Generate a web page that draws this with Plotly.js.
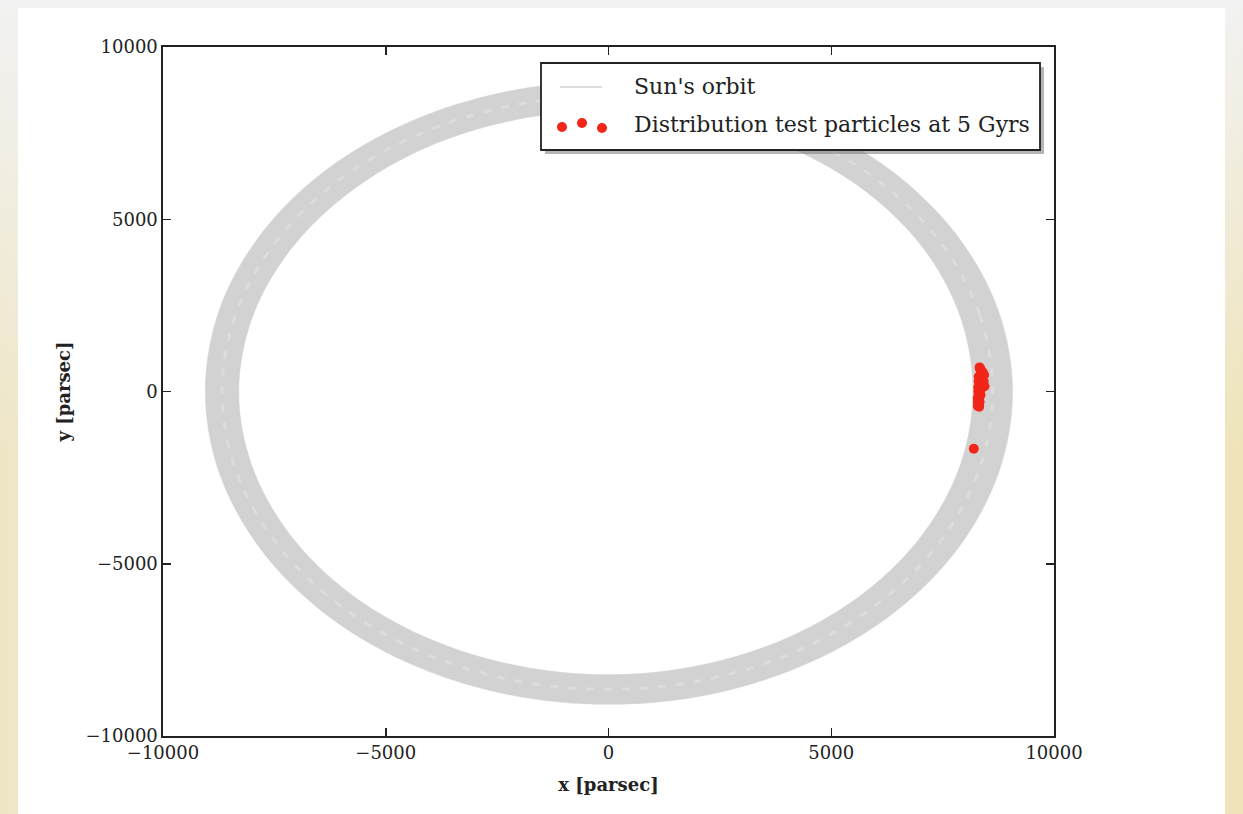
<!DOCTYPE html>
<html>
<head>
<meta charset="utf-8">
<script src="https://cdn.plot.ly/plotly-3.0.1.min.js"></script>
<style>
  html, body { margin: 0; padding: 0; width: 1243px; height: 814px; overflow: hidden; }
  body {
    background:
      linear-gradient(to bottom, rgba(242,242,242,1) 0%, rgba(242,242,242,0) 55%),
      linear-gradient(90deg, #efe6c6 0%, #f2f1ec 25%, #f2f2f2 80%, #efe3b8 100%);
  }
  #chart { position: absolute; left: 18px; top: 8px; width: 1207px; height: 806px; }
</style>
</head>
<body>
<div id="chart"></div>
<script>
// Sun's orbit band: inner and outer edge radius (pc) every 15 degrees, from +x counter-clockwise
const orbitAngleDeg = [0, 15, 30, 45, 60, 75, 90, 105, 120, 135, 150, 165,
                       180, 195, 210, 225, 240, 255, 270, 285, 300, 315, 330, 345];
const orbitOuterR = [9070, 9060, 9040, 9020, 9000, 8990, 8990, 9000, 9010, 9030, 9040, 9050,
                     9050, 9050, 9050, 9060, 9070, 9080, 9080, 9080, 9070, 9070, 9070, 9070];
const orbitInnerR = [8180, 8190, 8200, 8190, 8170, 8150, 8150, 8160, 8180, 8200, 8240, 8280,
                     8300, 8290, 8270, 8250, 8230, 8220, 8220, 8210, 8200, 8190, 8180, 8180];

// Test particles at 5 Gyr (pc)
const particleX = [8330, 8360, 8400, 8430, 8390, 8350, 8310, 8360, 8410, 8440, 8380, 8330,
                   8300, 8320, 8350, 8300, 8290, 8310, 8330, 8300, 8310, 8290, 8320,
                   8340, 8370, 8420, 8310, 8300, 8330, 8290, 8200];
const particleY = [700, 620, 560, 480, 400, 350, 300, 250, 200, 150, 110, 60,
                   0, -50, -100, -150, -200, -250, -300, -330, -380, -420, -440,
                   650, 520, 300, 430, 120, -20, -300, -1660];

// Axis ticks
const tickValues = [-10000, -5000, 0, 5000, 10000];
const tickLabels = ['\u221210000', '\u22125000', '0', '5000', '10000'];

// Legend entries
const legendLabels = ["Sun's orbit", 'Distribution test particles at 5 Gyrs'];

function ring(radii) {
  const xs = [], ys = [];
  const n = orbitAngleDeg.length;
  for (let i = 0; i <= n; i++) {
    const a = orbitAngleDeg[i % n] * Math.PI / 180;
    xs.push(radii[i % n] * Math.cos(a));
    ys.push(radii[i % n] * Math.sin(a));
  }
  return { xs, ys };
}

const outer = ring(orbitOuterR);
const inner = ring(orbitInnerR);
const mid = ring(orbitOuterR.map((r, i) => (r + orbitInnerR[i]) / 2));

const bandGray = '#d2d2d2';
const red = 'rgb(242,38,24)';
const axisColor = '#222';

const traces = [
  { x: outer.xs, y: outer.ys, mode: 'lines', line: { color: bandGray, width: 0.5, shape: 'spline' },
    hoverinfo: 'skip', name: legendLabels[0] },
  { x: inner.xs, y: inner.ys, mode: 'lines', fill: 'tonext', fillcolor: bandGray,
    line: { color: bandGray, width: 0.5, shape: 'spline' }, hoverinfo: 'skip', name: legendLabels[0] },
  { x: mid.xs, y: mid.ys, mode: 'lines', line: { color: '#dcdcdc', width: 3, dash: '8px,10px', shape: 'spline' },
    hoverinfo: 'skip', name: legendLabels[0] },
  { x: particleX, y: particleY, mode: 'markers', name: legendLabels[1],
    marker: { color: red, size: 10, line: { width: 0 } } }
];

// plot-area pixel geometry (relative to the whole page) for the legend box
const P = { left: 163, top: 47, w: 891, h: 689 };
const px = v => (v - P.left) / P.w;
const py = v => 1 - (v - P.top) / P.h;

const serif = 'DejaVu Serif, Liberation Serif, serif';

const shapes = [
  // legend shadow and frame
  { type: 'rect', xref: 'paper', yref: 'paper', x0: px(545), x1: px(1044), y0: py(67), y1: py(154),
    fillcolor: 'rgba(120,120,120,0.55)', line: { width: 0 }, layer: 'above' },
  { type: 'rect', xref: 'paper', yref: 'paper', x0: px(541), x1: px(1040), y0: py(63), y1: py(150),
    fillcolor: 'white', line: { color: axisColor, width: 1.8 }, layer: 'above' },
  // orbit sample line
  { type: 'line', xref: 'paper', yref: 'paper', x0: px(560), x1: px(602), y0: py(87), y1: py(87),
    line: { color: '#bdbdbd', width: 1.2 }, layer: 'above' }
];
// three particle dots in the legend
[[562, 127], [582, 123], [602, 128]].forEach(([cx, cy]) => {
  shapes.push({ type: 'circle', xref: 'paper', yref: 'paper', xsizemode: 'pixel', ysizemode: 'pixel',
    xanchor: px(cx), yanchor: py(cy), x0: -5, x1: 5, y0: -5, y1: 5,
    fillcolor: red, line: { width: 0 }, layer: 'above' });
});

const annotations = [
  { xref: 'paper', yref: 'paper', x: px(632), y: py(87), xanchor: 'left', yanchor: 'middle',
    text: legendLabels[0], showarrow: false, font: { family: serif, size: 22, color: axisColor } },
  { xref: 'paper', yref: 'paper', x: px(632), y: py(125), xanchor: 'left', yanchor: 'middle',
    text: legendLabels[1], showarrow: false, font: { family: serif, size: 22, color: axisColor } }
];

const axisCommon = {
  range: [-10000, 10000],
  tickmode: 'array', tickvals: tickValues, ticktext: tickLabels,
  ticks: 'inside', ticklen: 8, tickwidth: 1.5, tickcolor: axisColor,
  showline: true, linecolor: axisColor, linewidth: 1.6, mirror: 'ticks',
  showgrid: false, zeroline: false,
  tickfont: { family: serif, size: 18, color: axisColor }
};

const layout = {
  width: 1207, height: 806,
  margin: { l: 145, r: 171, t: 39, b: 78 },
  paper_bgcolor: 'white', plot_bgcolor: 'white',
  showlegend: false,
  xaxis: Object.assign({}, axisCommon, {
    title: { text: '<b>x [parsec]</b>', font: { family: serif, size: 18, color: axisColor }, standoff: 16 }
  }),
  yaxis: Object.assign({}, axisCommon, {
    title: { text: '<b>y [parsec]</b>', font: { family: serif, size: 18, color: axisColor }, standoff: 10 }
  }),
  shapes: shapes,
  annotations: annotations
};

Plotly.newPlot('chart', traces, layout, { displayModeBar: false, staticPlot: true });
</script>
</body>
</html>
